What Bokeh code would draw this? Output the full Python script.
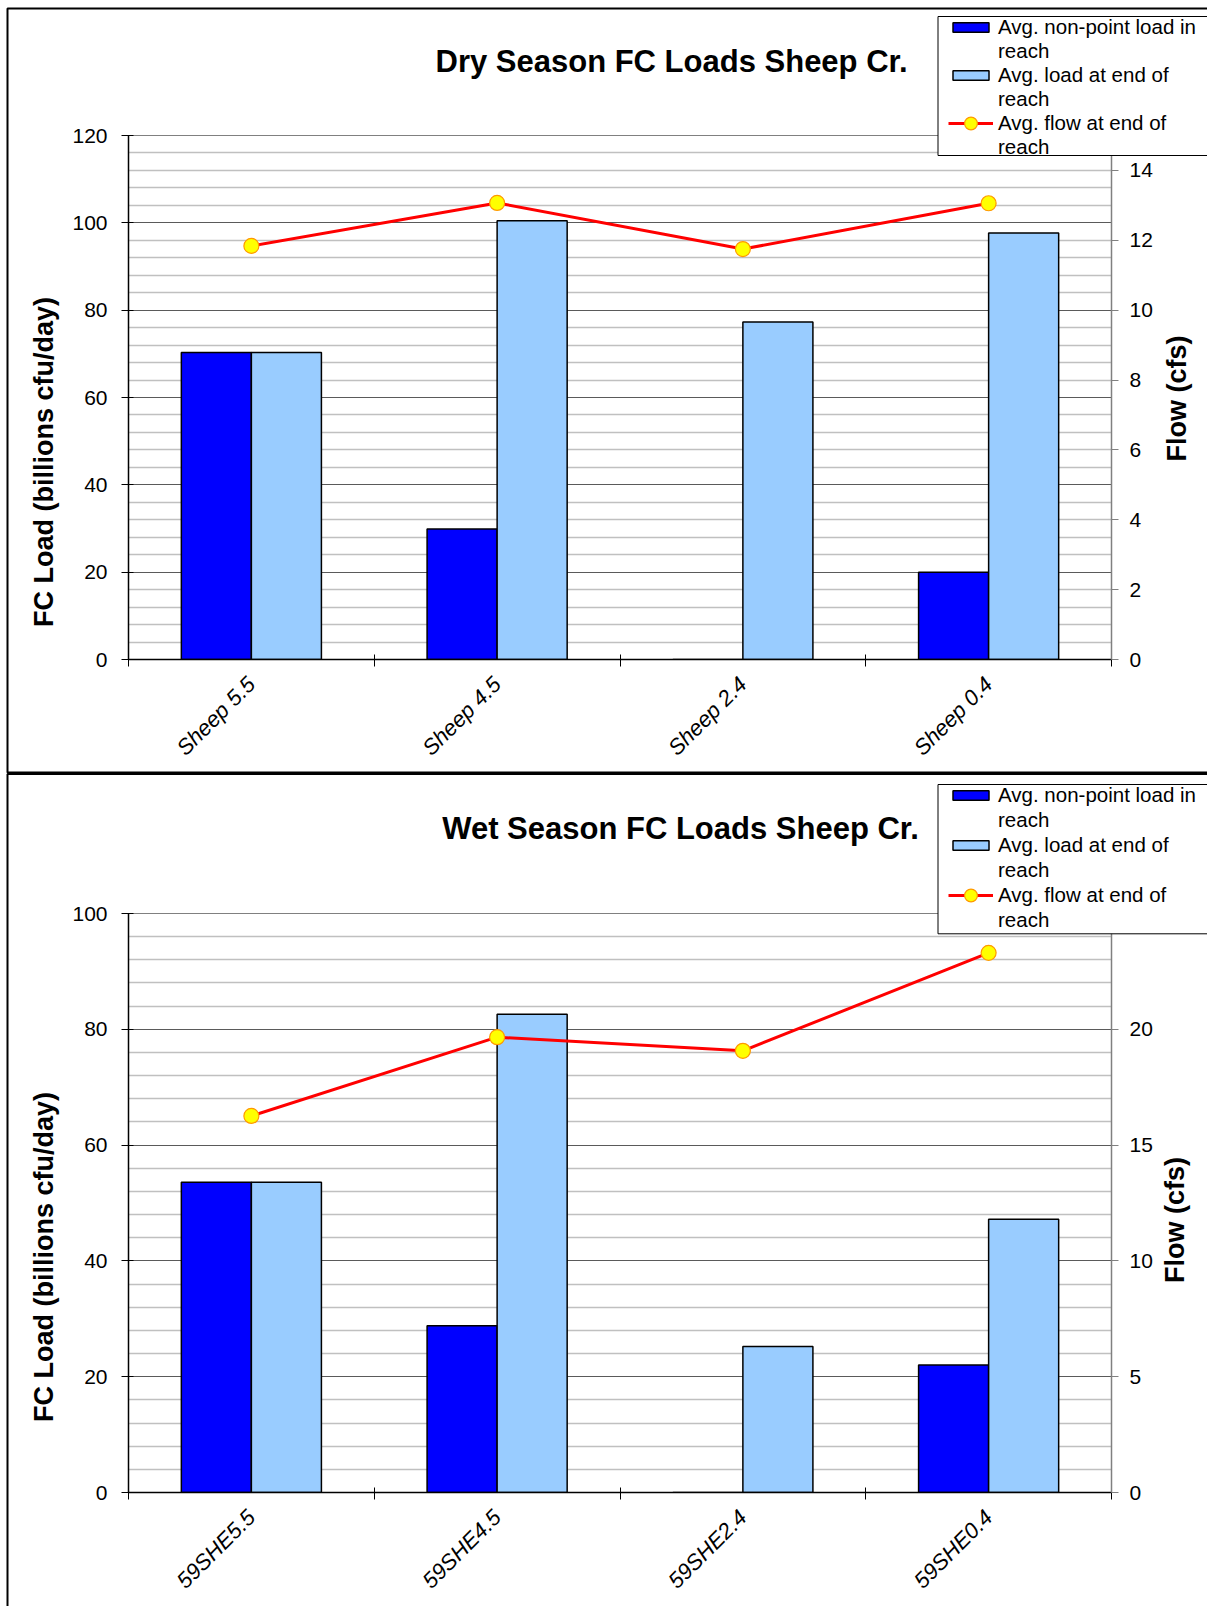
import math
from bokeh.plotting import figure
from bokeh.models import (ColumnDataSource, Range1d, LinearAxis, FixedTicker, Legend,
                          LegendItem, Label, BoxAnnotation, Grid, GridBox)
from bokeh.transform import dodge
from bokeh.layouts import column
from bokeh.embed import file_html
from bokeh.resources import INLINE
from bokeh.core.properties import value

FONT = "Liberation Sans"

# ---------------- data ----------------
dry_title = "Dry Season FC Loads Sheep Cr."
dry_cats = ["Sheep 5.5", "Sheep 4.5", "Sheep 2.4", "Sheep 0.4"]
dry_nonpoint = [70.3, 29.9, 0.0, 20.0]
dry_end = [70.3, 100.5, 77.3, 97.7]
dry_flow = [11.84, 13.07, 11.75, 13.06]
dry_load_ticks = [0, 20, 40, 60, 80, 100, 120]
dry_flow_ticks = [0, 2, 4, 6, 8, 10, 12, 14]

wet_title = "Wet Season FC Loads Sheep Cr."
wet_cats = ["59SHE5.5", "59SHE4.5", "59SHE2.4", "59SHE0.4"]
wet_nonpoint = [53.6, 28.8, 0.0, 22.0]
wet_end = [53.6, 82.6, 25.2, 47.2]
wet_flow = [16.26, 19.66, 19.07, 23.3]
wet_load_ticks = [0, 20, 40, 60, 80, 100]
wet_flow_ticks = [0, 5, 10, 15, 20]

series_labels = ["Avg. non-point load in", "Avg. load at end of", "Avg. flow at end of"]
load_label = "FC Load (billions cfu/day)"
flow_label = "Flow (cfs)"

W = 1207
H1, H2 = 772, 834

BAR1 = dict(fill_color="#0000FF", line_color="black", line_width=1.5)
BAR2 = dict(fill_color="#99CCFF", line_color="black", line_width=1.5)
LINE = dict(line_color="#FF0000", line_width=3)
MARK = dict(fill_color="#FFFF00", line_color="#FF9900", line_width=1.2)


def make_panel(cats, nonpoint, end, flow, load_ticks, load_max, flow_ticks, flow_max,
               height, b_top, b_bottom):
    n = len(cats)
    centers = [i + 0.5 for i in range(n)]
    p = figure(width=W, height=height, x_range=Range1d(0, n),
               y_range=Range1d(0, load_max), x_axis_location=None, y_axis_location=None,
               output_backend="svg", toolbar_location=None,
               min_border_left=128, min_border_right=96, min_border_top=b_top,
               min_border_bottom=b_bottom)
    p.center = [c for c in p.center if not isinstance(c, Grid)]
    p.outline_line_color = "#808080"
    p.outline_line_width = 1
    p.background_fill_color = "white"
    p.border_fill_color = "white"

    minor = [v for v in range(0, int(load_max) + 1, 4) if v % 20 != 0]
    lticker = FixedTicker(ticks=load_ticks, minor_ticks=minor)
    grid = Grid(dimension=1, ticker=lticker, grid_line_color="#5a5a5a", grid_line_width=1,
                minor_grid_line_color="#c0c0c0", minor_grid_line_width=1.5)
    p.add_layout(grid)

    la = LinearAxis(ticker=lticker, axis_line_color="black", axis_line_width=1.5,
                    major_tick_line_color="black", major_tick_out=7, major_tick_in=5,
                    minor_tick_line_color=None, major_label_standoff=14,
                    major_label_text_font=FONT, major_label_text_font_size="21px",
                    major_label_text_color="black")
    p.add_layout(la, "left")

    p.extra_y_ranges = {"flow": Range1d(0, flow_max)}
    ra = LinearAxis(y_range_name="flow", ticker=FixedTicker(ticks=flow_ticks),
                    axis_line_color="#808080", axis_line_width=1.5,
                    major_tick_line_color="#808080", major_tick_out=7, major_tick_in=0,
                    minor_tick_line_color=None, major_label_standoff=11,
                    major_label_text_font=FONT, major_label_text_font_size="21px",
                    major_label_text_color="black")
    p.add_layout(ra, "right")

    xa = LinearAxis(ticker=FixedTicker(ticks=centers, minor_ticks=list(range(n + 1))),
                    major_label_overrides={c: lab for c, lab in zip(centers, cats)},
                    axis_line_color="black", axis_line_width=1.5,
                    major_tick_line_color=None, major_tick_out=7, major_tick_in=0,
                    minor_tick_line_color="black", minor_tick_line_width=1,
                    minor_tick_out=7, minor_tick_in=5,
                    major_label_orientation=math.pi / 4, major_label_standoff=14,
                    major_label_text_font=FONT, major_label_text_font_style="italic",
                    major_label_text_font_size="22px", major_label_text_color="black")
    p.add_layout(xa, "below")

    src = ColumnDataSource(dict(x=centers, cat=cats, nonpoint=nonpoint, end=end, flow=flow))
    p.vbar(x=dodge("x", -0.1425), top="nonpoint", width=0.285, source=src, **BAR1)
    p.vbar(x=dodge("x", 0.1425), top="end", width=0.285, source=src, **BAR2)
    p.line(x="x", y="flow", y_range_name="flow", source=src, **LINE)
    p.scatter(x="x", y="flow", y_range_name="flow", source=src, size=15, **MARK)
    return p


p1 = make_panel(dry_cats, dry_nonpoint, dry_end, dry_flow, dry_load_ticks, 120,
                dry_flow_ticks, 15, H1, 135, 113)
p2 = make_panel(wet_cats, wet_nonpoint, wet_end, wet_flow, wet_load_ticks, 100,
                wet_flow_ticks, 25, H2, 141, 114)

# ---------------- overlay for titles, axis titles, legends, panel borders ----------------
HT = H1 + H2
ov = figure(width=W, height=HT, x_range=Range1d(0, W), y_range=Range1d(HT, 0),
            x_axis_location=None, y_axis_location=None, output_backend="svg",
            toolbar_location=None, min_border=0, min_border_left=0, min_border_right=0,
            min_border_top=0, min_border_bottom=0, tools="")
ov.center = [c for c in ov.center if not isinstance(c, Grid)]
ov.outline_line_color = None
ov.background_fill_color = None
ov.border_fill_color = None

# panel borders
ov.add_layout(BoxAnnotation(left=7, right=W + 100, top=8, bottom=772, fill_alpha=0,
                            line_color="black", line_alpha=1.0, line_width=2))
ov.add_layout(BoxAnnotation(left=7, right=W + 100, top=773.5, bottom=HT + 100, fill_alpha=0,
                            line_color="black", line_alpha=1.0, line_width=2))

# renderers without visible data that only supply legend swatches
NAN = float("nan")
d1 = ov.vbar(x=[NAN], top=[NAN], width=1, **BAR1)
d2 = ov.vbar(x=[NAN], top=[NAN], width=1, **BAR2)
d3 = ov.line(x=[NAN, NAN], y=[NAN, NAN], **LINE)
d4 = ov.scatter(x=[NAN], y=[NAN], **MARK)


def add_legend(box_top, box_bottom, legA_bottom, legB_bottom, spacing):
    ov.add_layout(BoxAnnotation(left=937.5, right=W + 100, top=box_top, bottom=box_bottom,
                                fill_color="white", fill_alpha=1.0, line_color="black",
                                line_alpha=1.0, line_width=1))
    items = [
        LegendItem(label=value(series_labels[0]), renderers=[d1]),
        LegendItem(label=value("reach"), renderers=[]),
        LegendItem(label=value(series_labels[1]), renderers=[d2]),
        LegendItem(label=value("reach"), renderers=[]),
        LegendItem(label=value(series_labels[2]), renderers=[d3]),
        LegendItem(label=value("reach"), renderers=[]),
    ]
    ov.add_layout(Legend(items=items, location=(948, HT - legA_bottom), orientation="vertical",
                         padding=0, spacing=spacing, margin=0, glyph_width=45, glyph_height=12,
                         label_height=20, label_standoff=5, label_text_font=FONT,
                         label_text_font_size="20.5px", label_text_color="black",
                         border_line_color=None, background_fill_alpha=0))
    ov.add_layout(Legend(items=[LegendItem(label=value(""), renderers=[d4])],
                         location=(948, HT - legB_bottom), orientation="vertical", padding=0,
                         spacing=0, margin=0, glyph_width=45, glyph_height=32,
                         label_height=0, label_width=0, label_standoff=0,
                         label_text_font_size="1px", border_line_color=None,
                         background_fill_alpha=0))


add_legend(16, 155, 158.9, 138.9, 0)
add_legend(784, 933.3, 932.4, 911.4, 1)


def add_text(x, y, text, size, angle=0.0):
    ov.add_layout(Label(x=x, y=y, text=text, text_font=FONT, text_font_size=size,
                        text_font_style="bold", text_align="center", text_baseline="middle",
                        text_color="black", angle=angle))


add_text(671, 60.7, dry_title, "31px")
add_text(680, 828.3, wet_title, "31px")
add_text(43, 461.5, load_label, "27px", math.pi / 2)
add_text(43, 1256.4, load_label, "27px", math.pi / 2)
add_text(1176, 398, flow_label, "27px", math.pi / 2)
add_text(1174, 1219.4, flow_label, "27px", math.pi / 2)

layout = GridBox(children=[(column(p1, p2, spacing=0), 0, 0), (ov, 0, 0)], spacing=0)
open("out.html", "w").write(file_html(layout, INLINE))
